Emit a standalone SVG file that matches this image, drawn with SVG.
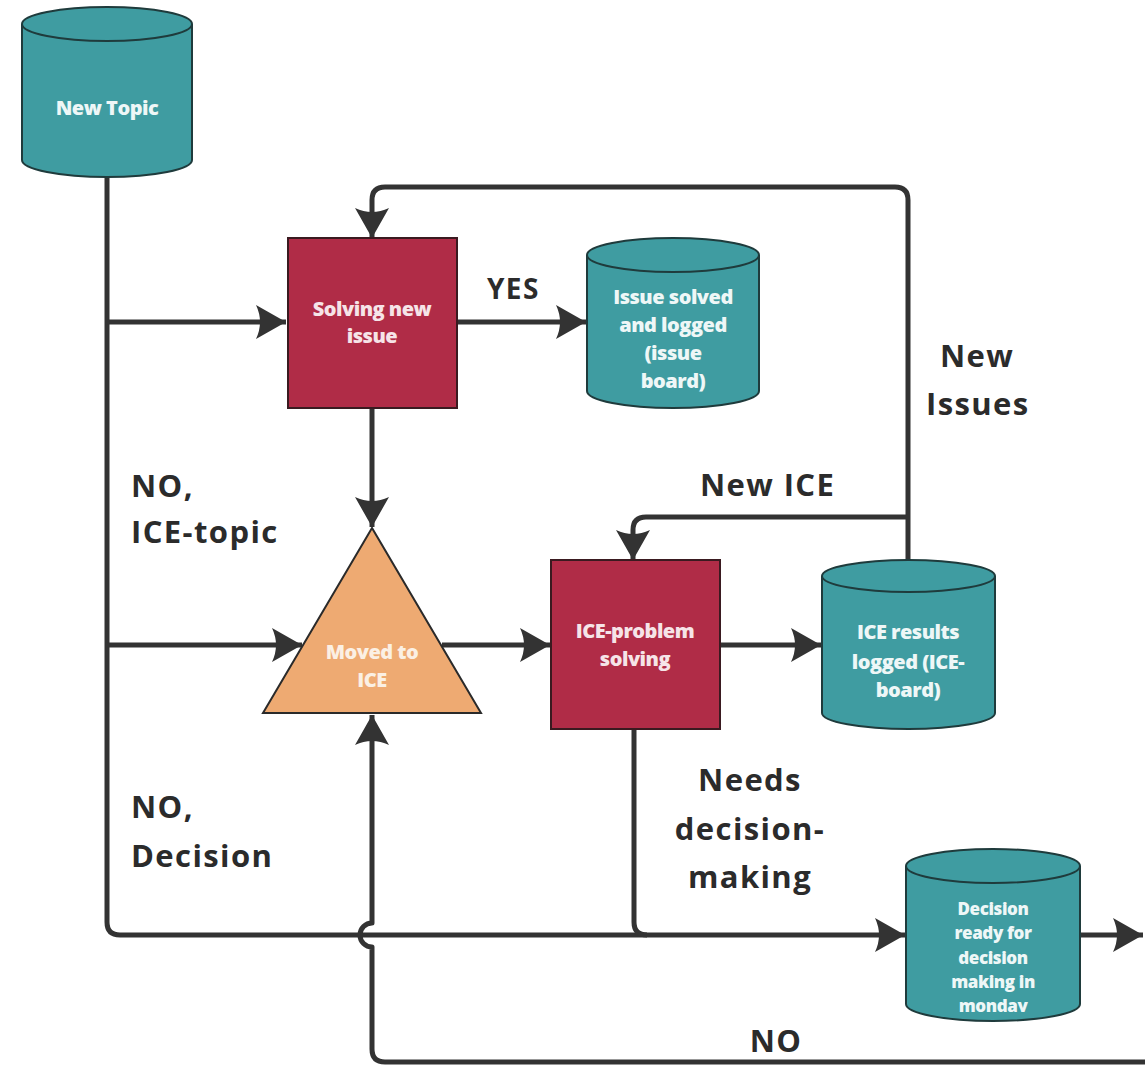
<svg xmlns="http://www.w3.org/2000/svg" width="1145" height="1069" viewBox="0 0 1145 1069">
<style>
.cyl{fill:#3f9ca1;stroke:#1f3b3c;stroke-width:2}
.box{fill:#b02c47;stroke:#3a1a20;stroke-width:2}
.tri{fill:#eeaa72;stroke:#2a2a2a;stroke-width:2}
.nt{font-family:"Open Sans","Liberation Sans",sans-serif;font-weight:800;font-size:20px;fill:#eef7f7;text-anchor:middle;letter-spacing:-0.5px}
.ds{font-size:17px;letter-spacing:-0.4px}
.lb{font-family:"Open Sans","Liberation Sans",sans-serif;font-weight:700;font-size:31px;fill:#2b2b2b;letter-spacing:1.4px}
.cn{fill:none;stroke:#333;stroke-width:5;stroke-linejoin:round}
</style>
<defs>
<marker id="ah" markerUnits="userSpaceOnUse" markerWidth="34" markerHeight="36" refX="30" refY="17" orient="auto">
<path d="M0,0 L30,17 L0,34 Q8,17 0,0 Z" fill="#333"/>
</marker>
<clipPath id="dclip"><rect x="900" y="840" width="190" height="172"/></clipPath>
</defs>

<g id="connectors">
<path class="cn" d="M107,176 V922 Q107,935 120,935 H905" marker-end="url(#ah)"/>
<path class="cn" d="M107,322 H286" marker-end="url(#ah)"/>
<path class="cn" d="M107,645 H302" marker-end="url(#ah)"/>
<path class="cn" d="M457,322 H586" marker-end="url(#ah)"/>
<path class="cn" d="M372,408 V527" marker-end="url(#ah)"/>
<path class="cn" d="M442,645 H550" marker-end="url(#ah)"/>
<path class="cn" d="M720,645 H821" marker-end="url(#ah)"/>
<path class="cn" d="M908,560 V200 Q908,187 895,187 H385 Q372,187 372,200 V238" marker-end="url(#ah)"/>
<path class="cn" d="M908,517 H646 Q633,517 633,530 V560" marker-end="url(#ah)"/>
<path class="cn" d="M634,729 V922 Q634,935 647,935"/>
<path class="cn" d="M1080,935 H1143" marker-end="url(#ah)"/>
<path class="cn" d="M1145,1062 H385 Q372,1062 372,1049 V947 A12,12 0 0 1 372,923 V715" marker-end="url(#ah)"/>
</g>

<g id="labels">
<text class="lb" x="487" y="299" style="font-size:28px">YES</text>
<text class="lb" x="940" y="367">New</text>
<text class="lb" x="926" y="415">Issues</text>
<text class="lb" x="700" y="496">New ICE</text>
<text class="lb" x="131" y="497">NO,</text>
<text class="lb" x="131" y="543">ICE-topic</text>
<text class="lb" x="131" y="818">NO,</text>
<text class="lb" x="131" y="867">Decision</text>
<text class="lb" x="750" y="791" text-anchor="middle">Needs</text>
<text class="lb" x="750" y="840" text-anchor="middle">decision-</text>
<text class="lb" x="750" y="888" text-anchor="middle">making</text>
<text class="lb" x="776" y="1052" text-anchor="middle">NO</text>
</g>

<g id="new-topic">
<path class="cyl" d="M22,24 V160 A85,17 0 0 0 192,160 V24"/>
<ellipse class="cyl" cx="107" cy="24" rx="85" ry="17"/>
<text class="nt" x="107" y="115">New Topic</text>
</g>

<g id="solving-new-issue">
<rect class="box" x="288" y="238" width="169" height="170"/>
<text class="nt" x="372" y="316" style="fill:#f6e4e8">Solving new</text>
<text class="nt" x="372" y="343" style="fill:#f6e4e8">issue</text>
</g>

<g id="issue-solved">
<path class="cyl" d="M587,255 V391 A86,17 0 0 0 759,391 V255"/>
<ellipse class="cyl" cx="673" cy="255" rx="86" ry="17"/>
<text class="nt" x="673" y="304">Issue solved</text>
<text class="nt" x="673" y="332">and logged</text>
<text class="nt" x="673" y="360">(issue</text>
<text class="nt" x="673" y="388">board)</text>
</g>

<g id="moved-to-ice">
<polygon class="tri" points="372,528 263,713 481,713"/>
<text class="nt" x="372" y="659" style="fill:#fbf0e4">Moved to</text>
<text class="nt" x="372" y="687" style="fill:#fbf0e4">ICE</text>
</g>

<g id="ice-problem-solving">
<rect class="box" x="551" y="560" width="169" height="169"/>
<text class="nt" x="635" y="638" style="fill:#f6e4e8">ICE-problem</text>
<text class="nt" x="635" y="666" style="fill:#f6e4e8">solving</text>
</g>

<g id="ice-results">
<path class="cyl" d="M822,576 V713 A86.5,16 0 0 0 995,713 V576"/>
<ellipse class="cyl" cx="908.5" cy="576" rx="86.5" ry="16"/>
<text class="nt" x="908" y="639">ICE results</text>
<text class="nt" x="908" y="669">logged (ICE-</text>
<text class="nt" x="908" y="697">board)</text>
</g>

<g id="decision-ready">
<path class="cyl" d="M906,866 V1004 A87,17 0 0 0 1080,1004 V866"/>
<ellipse class="cyl" cx="993" cy="866" rx="87" ry="17"/>
<g clip-path="url(#dclip)">
<text class="nt ds" x="993" y="915">Decision</text>
<text class="nt ds" x="993" y="939">ready for</text>
<text class="nt ds" x="993" y="964">decision</text>
<text class="nt ds" x="993" y="988">making in</text>
<text class="nt ds" x="993" y="1012">monday</text>
</g>
</g>
</svg>
